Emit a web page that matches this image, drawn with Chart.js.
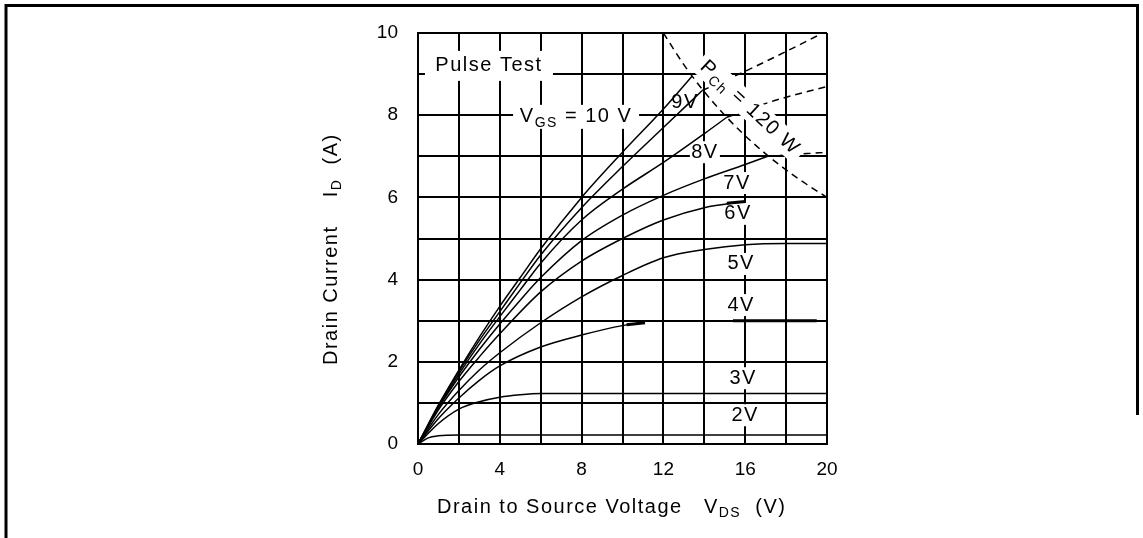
<!DOCTYPE html>
<html>
<head>
<meta charset="utf-8">
<script src="https://cdn.jsdelivr.net/npm/chart.js@4.4.1/dist/chart.umd.min.js"></script>
<style>
  html, body { margin: 0; padding: 0; background: #fff; }
  canvas { display: block; }
</style>
</head>
<body>
<canvas id="idVdsChart" width="1143" height="538"></canvas>
<script>
// Curvas ID - VDS (V en voltios, I en amperios)
var vgs10 = [[0,0],[1,0.95],[2,1.8],[3,2.6],[4,3.35],[5,4.05],[6,4.75],[8,6.0],[10,7.1],[12,8.15],[13.4,8.95]];
var vgs9  = [[0,0],[1,0.93],[2,1.76],[3,2.52],[4,3.22],[5,3.92],[6,4.6],[8,5.75],[10,6.75],[12,7.7],[13.9,8.6]];
var vgs8  = [[0,0],[1,0.9],[2,1.7],[3,2.43],[4,3.1],[5,3.75],[6,4.4],[8,5.45],[10,6.2],[12,6.85],[14,7.55],[15.1,7.95]];
var vgs7  = [[0,0],[1,0.88],[2,1.63],[3,2.3],[4,2.92],[5,3.5],[6,4.05],[8,4.95],[10,5.57],[12,6.05],[14,6.45],[16,6.8],[17.1,7.0]];
var vgs6  = [[0,0],[1,0.83],[2,1.52],[3,2.12],[4,2.68],[6,3.7],[8,4.45],[10,5.0],[12,5.45],[14,5.75],[16,5.9]];
var vgs5  = [[0,0],[1,0.72],[2,1.3],[3,1.8],[4,2.22],[6,2.95],[8,3.58],[10,4.1],[12,4.53],[14,4.73],[16,4.85],[18,4.88],[20,4.88]];
var vgs4  = [[0,0],[1,0.62],[2,1.12],[3,1.55],[4,1.9],[6,2.36],[8,2.65],[10,2.88],[11.1,2.95]];
var vgs3  = [[0,0],[1,0.5],[2,0.85],[3,1.03],[4,1.14],[5,1.2],[6,1.23],[20,1.23]];
var vgs2  = [[0,0],[0.5,0.15],[1,0.2],[2,0.22],[20,0.22]];

// tramos gruesos del original
var vgs4Flat = [[15.4,3.0],[19.5,3.0]];
var vgs4End  = [[10.2,2.9],[11.1,2.95]];
var vgs6End  = [[15.1,5.86],[16,5.9]];

// prolongaciones punteadas más allá del límite de potencia
var ext9 = [[13.9,8.6],[16,9.07],[18,9.55],[19.6,9.95]];
var ext8 = [[15.1,7.95],[17.4,8.35],[20,8.7]];
var ext7 = [[17.1,7.0],[20,7.1]];

// límite Pch = 120 W
var pchLimit = [[12,10],[13,9.23],[14,8.57],[15,8],[16,7.5],[17,7.06],[18,6.67],[19,6.32],[20,6]];

var xTicks = [0, 4, 8, 12, 16, 20];
var yTicks = [0, 2, 4, 6, 8, 10];

var FONT = '"Liberation Sans", Arial, sans-serif';

function pts(arr) {
    return arr.map(function (p) { return { x: p[0], y: p[1] }; });
}

function curve(arr, opts) {
    var ds = {
        data: pts(arr),
        showLine: true,
        borderColor: '#000',
        borderWidth: 1.5,
        pointRadius: 0,
        fill: false,
        cubicInterpolationMode: 'monotone'
    };
    for (var k in opts || {}) ds[k] = opts[k];
    return ds;
}

// etiquetas de las curvas (posición en unidades del gráfico)
var curveLabels = [
    { parts: [['Pulse Test']], x: 3.47, y: 9.2, w: 128, h: 30 },
    { parts: [['V'], ['GS', 1], [' = 10 V']], x: 7.73, y: 7.96, w: 126, h: 24 },
    { parts: [['9V']], x: 13.06, y: 8.3, w: 26, h: 20 },
    { parts: [['8V']], x: 14.03, y: 7.1, w: 30, h: 22 },
    { parts: [['7V']], x: 15.6, y: 6.35, w: 30, h: 22 },
    { parts: [['6V']], x: 15.65, y: 5.6, w: 30, h: 22 },
    { parts: [['5V']], x: 15.8, y: 4.38, w: 30, h: 22 },
    { parts: [['4V']], x: 15.8, y: 3.38, w: 30, h: 22 },
    { parts: [['3V']], x: 15.9, y: 1.6, w: 30, h: 22 },
    { parts: [['2V']], x: 16.0, y: 0.7, w: 32, h: 22 }
];
var pchLabel = { parts: [['P'], ['Ch', 1], [' = 120 W']], x: 16.23, y: 8.18, angle: 43 };

function partsWidth(ctx, parts) {
    var w = 0;
    parts.forEach(function (p) {
        ctx.font = (p[1] ? 14 : 20) + 'px ' + FONT;
        w += ctx.measureText(p[0]).width;
    });
    return w;
}

function drawParts(ctx, parts, x, y) {
    ctx.textBaseline = 'middle';
    ctx.textAlign = 'left';
    ctx.fillStyle = '#000';
    parts.forEach(function (p) {
        ctx.font = (p[1] ? 14 : 20) + 'px ' + FONT;
        ctx.fillText(p[0], x, y + (p[1] ? 6 : 0));
        x += ctx.measureText(p[0]).width;
    });
}

var labelPlugin = {
    id: 'labels',
    beforeDatasetsDraw: function (chart) {
        var ctx = chart.ctx, xs = chart.scales.x, ys = chart.scales.y;
        ctx.save();
        ctx.fillStyle = '#fff';
        curveLabels.forEach(function (l) {
            var cx = xs.getPixelForValue(l.x), cy = ys.getPixelForValue(l.y);
            ctx.fillRect(cx - l.w / 2, cy - l.h / 2, l.w, l.h);
        });
        ctx.restore();
    },
    afterDatasetsDraw: function (chart) {
        var ctx = chart.ctx, xs = chart.scales.x, ys = chart.scales.y;
        ctx.save();
        ctx.letterSpacing = '1.5px';
        curveLabels.forEach(function (l) {
            var cx = xs.getPixelForValue(l.x), cy = ys.getPixelForValue(l.y);
            var w = partsWidth(ctx, l.parts);
            drawParts(ctx, l.parts, cx - w / 2, cy);
        });
        // etiqueta girada del límite de potencia
        var px = xs.getPixelForValue(pchLabel.x), py = ys.getPixelForValue(pchLabel.y);
        ctx.translate(px, py);
        ctx.rotate(pchLabel.angle * Math.PI / 180);
        var pw = partsWidth(ctx, pchLabel.parts);
        ctx.fillStyle = '#fff';
        ctx.fillRect(-pw / 2 - 5, -12, pw + 10, 24);
        drawParts(ctx, pchLabel.parts, -pw / 2, 0);
        ctx.restore();
    },
    afterDraw: function (chart) {
        var ctx = chart.ctx, a = chart.chartArea;
        ctx.save();
        ctx.letterSpacing = '1.5px';
        // título eje X
        drawParts(ctx, [['Drain to Source Voltage   V'], ['DS', 1], ['  (V)']], a.left + 19, a.bottom + 63);
        // título eje Y
        ctx.save();
        ctx.translate(a.left - 87, a.bottom - 79);
        ctx.rotate(-Math.PI / 2);
        drawParts(ctx, [['Drain Current    I'], ['D', 1], ['  (A)']], 0, 0);
        ctx.restore();
        // marco
        ctx.strokeStyle = '#000';
        ctx.lineWidth = 3;
        ctx.beginPath();
        ctx.moveTo(6, 538);
        ctx.lineTo(6, 5.5);
        ctx.lineTo(1137.5, 5.5);
        ctx.lineTo(1137.5, 415);
        ctx.stroke();
        ctx.restore();
    }
};

window.onload = function () {
    var ctx = document.getElementById('idVdsChart').getContext('2d');
    var chart = new Chart(ctx, {
        type: 'scatter',
        data: {
            datasets: [
                curve(vgs10), curve(vgs9), curve(vgs8), curve(vgs7), curve(vgs6),
                curve(vgs5), curve(vgs4), curve(vgs3), curve(vgs2),
                curve(vgs4Flat, { borderWidth: 3 }),
                curve(vgs4End, { borderWidth: 3 }),
                curve(vgs6End, { borderWidth: 3 }),
                curve(ext9, { borderDash: [7, 5] }),
                curve(ext8, { borderDash: [7, 5] }),
                curve(ext7, { borderDash: [7, 5] }),
                curve(pchLimit, { borderDash: [7, 5], borderWidth: 1.5 })
            ]
        },
        options: {
            responsive: false,
            animation: false,
            layout: { padding: { left: 0, top: 33, right: 316, bottom: 0 } },
            plugins: { legend: { display: false }, tooltip: { enabled: false } },
            scales: {
                x: {
                    type: 'linear', min: 0, max: 20,
                    afterFit: function (s) { s.height = 94; },
                    ticks: {
                        stepSize: 2, padding: 14, autoSkip: false, maxRotation: 0,
                        color: '#000', font: { family: FONT, size: 19 },
                        callback: function (v) { return xTicks.indexOf(v) >= 0 ? String(v) : ''; }
                    },
                    grid: { color: '#000', lineWidth: 2, drawTicks: false },
                    border: { color: '#000', width: 2 }
                },
                y: {
                    type: 'linear', min: 0, max: 10,
                    afterFit: function (s) { s.width = 418; },
                    ticks: {
                        stepSize: 1, padding: 20, autoSkip: false,
                        color: '#000', font: { family: FONT, size: 19 },
                        callback: function (v) { return yTicks.indexOf(v) >= 0 ? String(v) : ''; }
                    },
                    grid: { color: '#000', lineWidth: 2, drawTicks: false },
                    border: { color: '#000', width: 2 }
                }
            }
        },
        plugins: [labelPlugin]
    });
};
</script>
</body>
</html>
